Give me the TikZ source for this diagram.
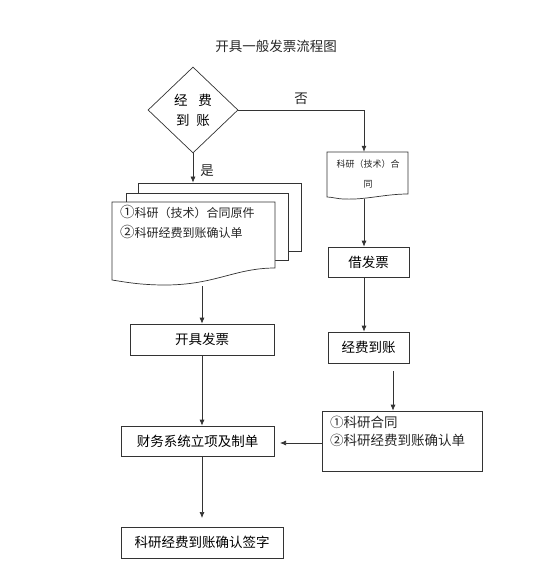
\documentclass[tikz,border=0pt]{standalone}
\usepackage{fontspec}
\newfontfamily\cjk{Noto Sans CJK SC}
\usetikzlibrary{shapes.geometric,arrows.meta}
\tikzset{
  ln/.style={draw=black!80, line width=0.7pt},
  arr/.style={ln, -{Latex[length=6pt,width=5pt]}},
  box/.style={ln, rectangle, inner sep=0pt, font=\cjk\fontsize{13.5}{16}\selectfont, fill=white},
  txt/.style={inner sep=0pt, font=\cjk\fontsize{13.5}{16}\selectfont, text=black!85},
}
\newcommand\cnum[1]{{\fontsize{14.5}{14}\selectfont #1}}
\begin{document}
\begin{tikzpicture}[x=1pt,y=-1pt]
\useasboundingbox (0,0) rectangle (558,585);
% title
\node[txt] (title) at (276,46) {开具一般发票流程图};
% decision
\node[ln, diamond, minimum width=90pt, minimum height=86pt, inner sep=0pt, align=center,
      font=\cjk\fontsize{13.5}{20}\selectfont] (dia) at (193,110) {经\hspace{0.8em}费\\到\hspace{0.5em}账};
% multi-document stack
\node[ln, fill=white, minimum width=163pt, minimum height=68pt, inner sep=0pt] (back) at (219.5,217) {};
\node[ln, fill=white, minimum width=162pt, minimum height=67pt, inner sep=0pt] (mid) at (207,226.5) {};
\draw[ln, fill=white] (112,202) -- (275,202) -- (275,268)
   .. controls (235,268) and (215,285) .. (165,285)
   .. controls (140,285) and (125,282) .. (112,280) -- cycle;
\node[inner sep=0pt, minimum width=163pt, minimum height=83pt] (front) at (193.5,243.5) {};
\node[anchor=north west, align=left, inner sep=0pt, text=black!85,
      font=\cjk\fontsize{12}{20}\selectfont] (fronttext) at (120,205)
      {\cnum{①}科研（技术）合同原件\\\cnum{②}科研经费到账确认单};
\coordinate (fstart) at (202,286);
% left boxes
\node[box, minimum width=144pt, minimum height=31pt] (kaiju) at (202,339.5) {开具发票};
\node[box, minimum width=153pt, minimum height=30pt] (caiwu) at (197.5,441) {财务系统立项及制单};
\node[box, minimum width=162pt, minimum height=31pt] (qianzi) at (202,542.5) {科研经费到账确认签字};
\coordinate (qend) at (202,518);
% right document
\draw[ln, fill=white] (327,152) -- (408,152) -- (408,194)
   .. controls (385,194) and (365,200) .. (345,199)
   .. controls (337,199) and (332,197) .. (327,197) -- cycle;
\node[inner sep=0pt, minimum width=81pt, minimum height=47pt] (docR) at (367.5,175.5) {};
\node[align=center, inner sep=0pt, text=black!85, font=\cjk\fontsize{9}{20}\selectfont] (docRtext) at (368,174) {科研（技术）合\\同};
% right boxes
\node[box, minimum width=81pt, minimum height=30pt] (jie) at (368.5,262) {借发票};
\node[box, minimum width=81pt, minimum height=31pt] (jing) at (368.5,347.5) {经费到账};
\coordinate (jstart) at (393,371);
\node[ln, rectangle, minimum width=160pt, minimum height=60pt, inner sep=0pt] (hetong) at (402,441) {};
\node[anchor=north west, align=left, inner sep=0pt, text=black!85,
      font=\cjk\fontsize{13.5}{18}\selectfont] (hetongtext) at (330,416)
      {①科研合同\\②科研经费到账确认单};
\coordinate (hend) at (280,443);
% connectors
\draw[arr] (dia.south) -- (dia.south |- back.north) node[pos=0.6, right=7pt, txt] (shi) {是};
\draw[arr] (dia.east) -| ([xshift=-3.5pt]docR.north) node[pos=0.25, above=5pt, txt] (fou) {否};
\draw[arr] (docR.south -| 364,0) -- (jie.north -| 364,0);
\draw[arr] (jie.south -| 364,0) -- (jing.north -| 364,0);
\draw[arr] (jstart) -- (jstart |- hetong.north);
\draw[arr] (fstart) -- (fstart |- kaiju.north);
\draw[arr] (kaiju.south) -- (kaiju.south |- caiwu.north);
\draw[arr] (caiwu.south -| qend) -- (qend);
\draw[arr] (hetong.west |- hend) -- (hend);
\end{tikzpicture}
\end{document}
